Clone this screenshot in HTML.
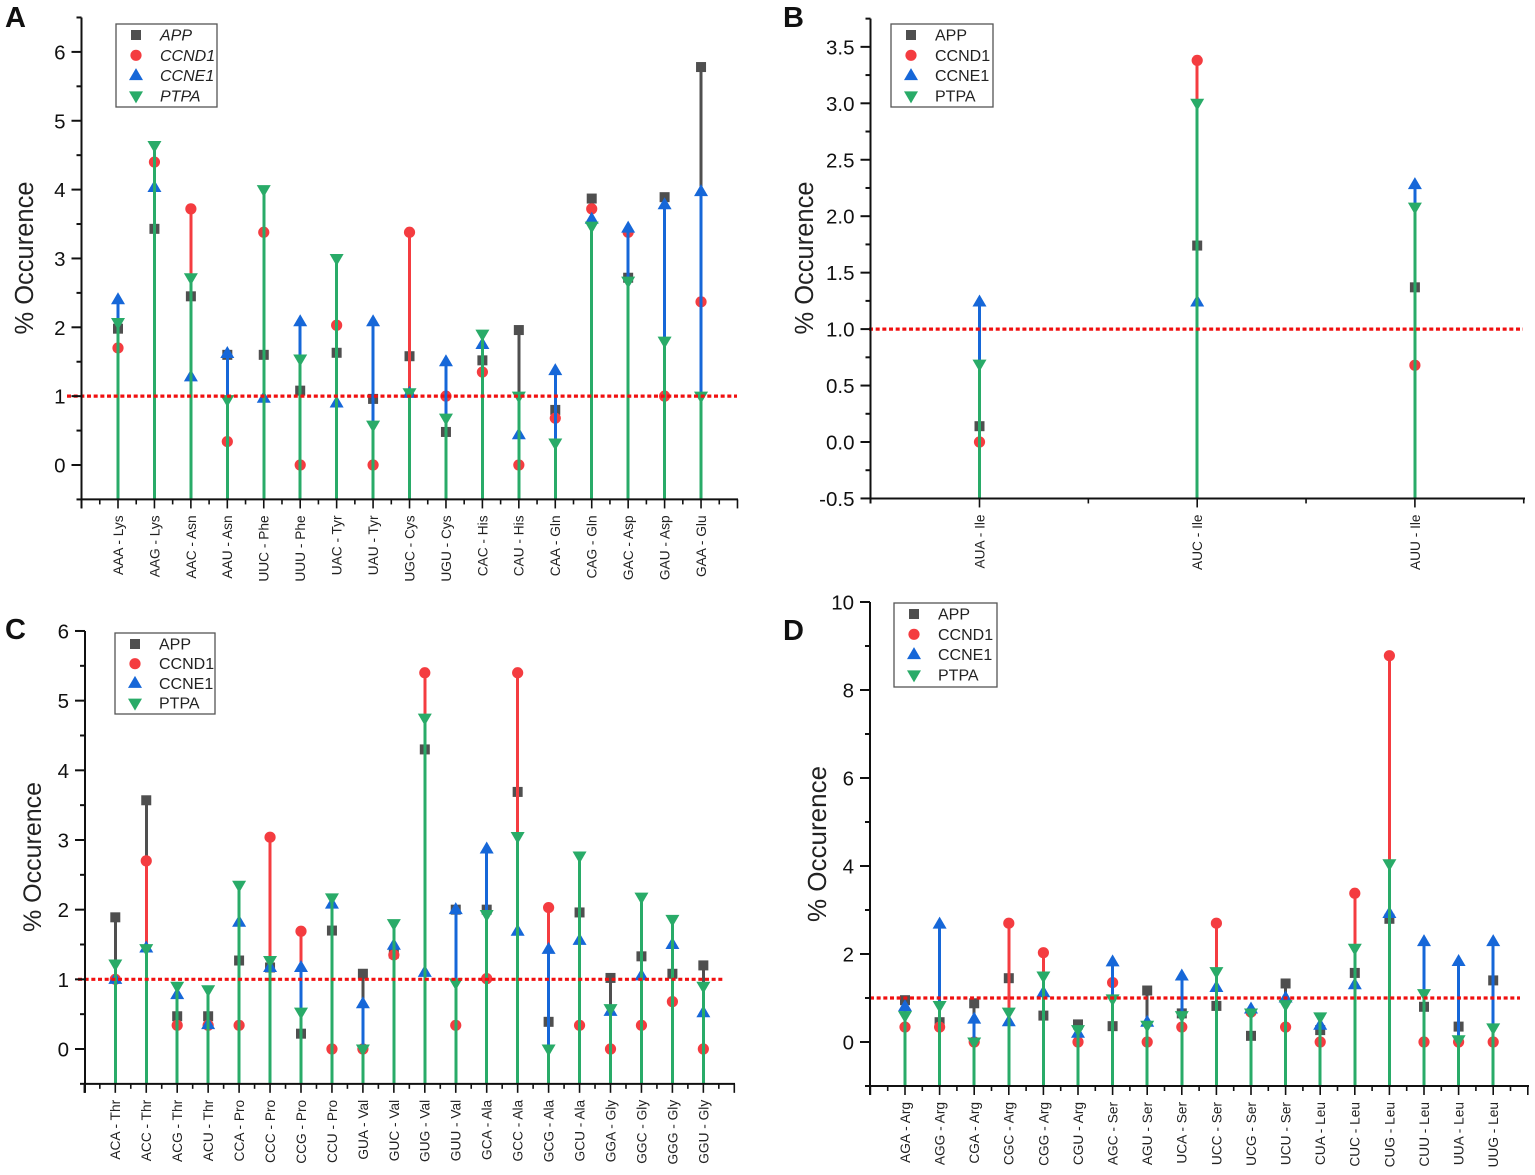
<!DOCTYPE html>
<html lang="en">
<head>
<meta charset="utf-8">
<title>Codon occurrence charts</title>
<style>
html,body{margin:0;padding:0;background:#fff;}
svg{display:block;font-family:"Liberation Sans",Arial,sans-serif;}
</style>
</head>
<body>
<svg id="figure" xmlns="http://www.w3.org/2000/svg" width="1535" height="1175" viewBox="0 0 1535 1175"></svg>
<script>
// Panel A data
const aCategories = ["AAA - Lys","AAG - Lys","AAC - Asn","AAU - Asn","UUC - Phe","UUU - Phe","UAC - Tyr","UAU - Tyr","UGC - Cys","UGU - Cys","CAC - His","CAU - His","CAA - Gln","CAG - Gln","GAC - Asp","GAU - Asp","GAA - Glu"];
const aApp   = [1.98,3.43,2.45,1.6,1.6,1.08,1.63,0.96,1.58,0.48,1.52,1.96,0.8,3.87,2.72,3.89,5.78];
const aCcnd1 = [1.7,4.4,3.72,0.34,3.38,0,2.03,0,3.38,1.0,1.35,0,0.68,3.72,3.38,1.0,2.37];
const aCcne1 = [2.4,4.03,1.28,1.62,0.97,2.08,0.9,2.08,1.04,1.5,1.75,0.44,1.37,3.57,3.44,3.78,3.97];
const aPtpa  = [2.07,4.64,2.72,0.95,4.0,1.54,3.0,0.58,1.05,0.68,1.9,1.0,0.32,3.47,2.67,1.8,1.0];
const aTicks = ["0","1","2","3","4","5","6"];

// Panel B data
const bCategories = ["AUA - Ile","AUC - Ile","AUU - Ile"];
const bApp   = [0.14,1.74,1.37];
const bCcnd1 = [0,3.38,0.68];
const bCcne1 = [1.24,1.24,2.28];
const bPtpa  = [0.69,3.0,2.08];
const bTicks = ["-0.5","0.0","0.5","1.0","1.5","2.0","2.5","3.0","3.5"];

// Panel C data
const cCategories = ["ACA - Thr","ACC - Thr","ACG - Thr","ACU - Thr","CCA - Pro","CCC - Pro","CCG - Pro","CCU - Pro","GUA - Val","GUC - Val","GUG - Val","GUU - Val","GCA - Ala","GCC - Ala","GCG - Ala","GCU - Ala","GGA - Gly","GGC - Gly","GGG - Gly","GGU - Gly"];
const cApp   = [1.89,3.57,0.47,0.47,1.27,1.17,0.22,1.7,1.08,1.37,4.3,2.0,2.0,3.69,0.39,1.96,1.02,1.33,1.08,1.2];
const cCcnd1 = [1.0,2.7,0.34,0.34,0.34,3.04,1.69,0,0,1.35,5.4,0.34,1.01,5.4,2.03,0.34,0,0.34,0.68,0];
const cCcne1 = [1.0,1.45,0.78,0.35,1.82,1.17,1.17,2.08,0.65,1.49,1.1,2.0,2.87,1.69,1.43,1.56,0.54,1.05,1.5,0.52];
const cPtpa  = [1.22,1.44,0.9,0.85,2.35,1.27,0.53,2.17,0,1.8,4.75,0.95,1.93,3.05,0,2.77,0.58,2.18,1.86,0.9];
const cTicks = ["0","1","2","3","4","5","6"];

// Panel D data
const dCategories = ["AGA - Arg","AGG - Arg","CGA - Arg","CGC - Arg","CGG - Arg","CGU - Arg","AGC - Ser","AGU - Ser","UCA - Ser","UCC - Ser","UCG - Ser","UCU - Ser","CUA - Leu","CUC - Leu","CUG - Leu","CUU - Leu","UUA - Leu","UUG - Leu"];
const dApp   = [0.95,0.45,0.88,1.45,0.6,0.4,0.36,1.17,0.65,0.82,0.14,1.33,0.27,1.57,2.8,0.8,0.35,1.4];
const dCcnd1 = [0.34,0.34,0,2.7,2.03,0,1.35,0,0.34,2.7,0.68,0.34,0,3.38,8.78,0,0,0];
const dCcne1 = [0.8,2.68,0.52,0.46,1.12,0.2,1.82,0.45,1.5,1.24,0.75,1.0,0.38,1.3,2.92,2.28,1.83,2.28];
const dPtpa  = [0.6,0.83,0,0.68,1.5,0.28,0.98,0.38,0.6,1.6,0.66,0.85,0.57,2.13,4.05,1.1,0.05,0.32];
const dTicks = ["0","2","4","6","8","10"];

const seriesNames = ["APP","CCND1","CCNE1","PTPA"];
const seriesColors = ["#4f4f4f","#f43c40","#1667d8","#29ab68"];
const referenceValue = 1;

const NS = "http://www.w3.org/2000/svg";
const root = document.getElementById("figure");

function el(parent, tag, attrs, text) {
  const e = document.createElementNS(NS, tag);
  for (const k in attrs) e.setAttribute(k, attrs[k]);
  if (text !== undefined) e.textContent = text;
  parent.appendChild(e);
  return e;
}

function marker(parent, kind, cx, cy, color, name) {
  let m;
  if (kind === 0) {
    m = el(parent, "rect", {x: cx - 5, y: cy - 5, width: 10, height: 10, fill: color});
  } else if (kind === 1) {
    m = el(parent, "circle", {cx: cx, cy: cy, r: 5.6, fill: color});
  } else if (kind === 2) {
    m = el(parent, "polygon", {points: (cx - 7) + "," + (cy + 4.5) + " " + (cx + 7) + "," + (cy + 4.5) + " " + cx + "," + (cy - 7.5), fill: color});
  } else {
    m = el(parent, "polygon", {points: (cx - 7) + "," + (cy - 4.5) + " " + (cx + 7) + "," + (cy - 4.5) + " " + cx + "," + (cy + 7.5), fill: color});
  }
  
  
  return m;
}

function drawPanel(p, categories, seriesValues, tickLabels) {
  const g = el(root, "g", {});
  
  

  const yOf = v => p.y0 - v * p.yScale;
  const xOf = i => p.x0 + i * p.xStep;
  const axisLeft = p.axisX;
  const axisRight = p.axisRight;
  const axisBottom = yOf(p.yMin);

  const letter = el(g, "text", {x: p.letterX, y: p.letterY, "font-size": 29, "font-weight": "bold", fill: "#111"}, p.id);
  
  

  // series: each draws drop lines and markers, later series on top
  seriesValues.forEach((vals, s) => {
    const sg = el(g, "g", {});
    
    
    vals.forEach((v, i) => {
      const dl = el(sg, "line", {x1: xOf(i), x2: xOf(i), y1: yOf(v), y2: axisBottom, stroke: seriesColors[s], "stroke-width": 3, "shape-rendering": "crispEdges"});
      
      
      marker(sg, s, xOf(i), yOf(v), seriesColors[s], 'point-marker');
    });
  });

  // reference line
  const ref = el(g, "line", {x1: p.refStart, x2: p.refEnd, y1: yOf(referenceValue), y2: yOf(referenceValue), stroke: "#f01010", "stroke-width": 3.2, "stroke-dasharray": "4 2.67"});
  
  

  // y axis
  const yAxis = el(g, "g", {});
  
  
  const axisColor = "#111";
  el(yAxis, "line", {x1: axisLeft, x2: axisLeft, y1: yOf(p.yMax), y2: axisBottom + (p.halfEnds ? 5 : 9), stroke: axisColor, "stroke-width": 2});
  tickLabels.forEach((t, i) => {
    const v = parseFloat(t);
    const y = yOf(v);
    el(yAxis, "line", {x1: axisLeft - 10, x2: axisLeft, y1: y, y2: y, stroke: axisColor, "stroke-width": 2});
    const lab = el(yAxis, "text", {x: axisLeft - 16, y: y + 7.5, "text-anchor": "end", "font-size": p.tickFont, fill: "#111"}, t);
    
    
    const mv = v + p.yMajor / 2;
    if (mv <= p.yMax) {
      el(yAxis, "line", {x1: axisLeft - 5, x2: axisLeft, y1: yOf(mv), y2: yOf(mv), stroke: axisColor, "stroke-width": 2});
    }
    if (i === 0 && v - p.yMajor / 2 >= p.yMin) {
      el(yAxis, "line", {x1: axisLeft - 5, x2: axisLeft, y1: yOf(v - p.yMajor / 2), y2: yOf(v - p.yMajor / 2), stroke: axisColor, "stroke-width": 2});
    }
  });

  const yTitle = el(g, "text", {transform: "translate(" + p.titleX + "," + p.titleY + ") rotate(-90)", "text-anchor": "middle", "font-size": p.titleFont, fill: "#222"}, "% Occurence");
  
  

  // x axis
  const xAxis = el(g, "g", {});
  
  
  el(xAxis, "line", {x1: axisLeft - 1, x2: axisRight + 1, y1: axisBottom, y2: axisBottom, stroke: axisColor, "stroke-width": 2});
  for (let i = -1; i <= categories.length; i++) {
    const x = xOf(i);
    if (!p.halfEnds || (i >= 0 && i < categories.length)) {
      el(xAxis, "line", {x1: x, x2: x, y1: axisBottom, y2: axisBottom + 9, stroke: axisColor, "stroke-width": 1.6});
    }
    if (i < categories.length) {
      el(xAxis, "line", {x1: x + p.xStep / 2, x2: x + p.xStep / 2, y1: axisBottom, y2: axisBottom + 5, stroke: axisColor, "stroke-width": 1.6});
    }
  }
  categories.forEach((c, i) => {
    const lx = xOf(i) + 4.9;
    const lab = el(xAxis, "text", {transform: "translate(" + lx + "," + (axisBottom + 16) + ") rotate(-90)", "text-anchor": "end", "font-size": 13.7, fill: "#222"}, c);
    
    
  });

  // legend
  const lg = el(g, "g", {});
  
  
  el(lg, "rect", {x: p.legX, y: p.legY, width: p.legW, height: p.legH, fill: "#fff", stroke: "#555", "stroke-width": 1.3});
  seriesNames.forEach((n, s) => {
    const ey = p.legY + 11 + s * p.legStep;
    const entry = el(lg, "g", {});
    
    
    marker(entry, s, p.legX + 20, ey, seriesColors[s], 'legend-marker');
    const t = el(entry, "text", {x: p.legX + 44, y: ey + 5.5, "font-size": 16, "font-style": p.legItalic ? "italic" : "normal", fill: "#222"}, n);
    
    
  });
}

drawPanel({id:"A", y0:465, yScale:68.85, yMin:-0.5, yMax:6.5, yMajor:1, x0:118, xStep:36.44, axisX:81.5, axisRight:737,
  refStart:67, refEnd:737, letterX:5, letterY:27, titleX:33, titleY:258, titleFont:25.5, tickFont:20.5,
  legX:116, legY:24, legW:101, legH:83, legStep:20.3, legItalic:true},
  aCategories, [aApp,aCcnd1,aCcne1,aPtpa], aTicks);

drawPanel({id:"B", y0:442, yScale:112.9, yMin:-0.5, yMax:3.75, yMajor:0.5, x0:979.5, xStep:217.7, axisX:870.5, axisRight:1524, halfEnds:true,
  refStart:869, refEnd:1523, letterX:783, letterY:27, titleX:813, titleY:258, titleFont:25.5, tickFont:20.5,
  legX:891, legY:24, legW:102, legH:83, legStep:20.3, legItalic:false},
  bCategories, [bApp,bCcnd1,bCcne1,bPtpa], bTicks);

drawPanel({id:"C", y0:1049, yScale:69.67, yMin:-0.5, yMax:6, yMajor:1, x0:115.3, xStep:30.95, axisX:85, axisRight:734,
  refStart:78, refEnd:724, letterX:5, letterY:639, titleX:41, titleY:857, titleFont:25, tickFont:20.5,
  legX:115, legY:633, legW:100, legH:81, legStep:19.7, legItalic:false},
  cCategories, [cApp,cCcnd1,cCcne1,cPtpa], cTicks);

drawPanel({id:"D", y0:1042, yScale:44, yMin:-1, yMax:10, yMajor:2, x0:905, xStep:34.6, axisX:870, axisRight:1528,
  refStart:870, refEnd:1520, letterX:783, letterY:640, titleX:826, titleY:844, titleFont:26, tickFont:20.5,
  legX:894, legY:603, legW:103, legH:84, legStep:20.3, legItalic:false},
  dCategories, [dApp,dCcnd1,dCcne1,dPtpa], dTicks);
</script>
</body>
</html>
